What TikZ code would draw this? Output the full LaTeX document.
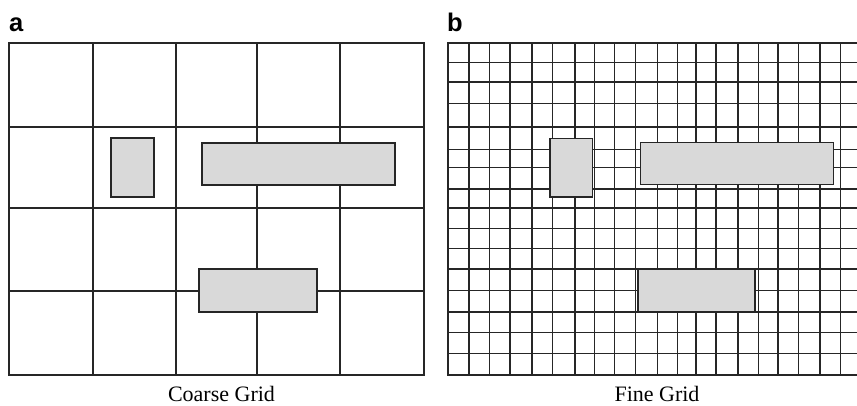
\documentclass[tikz,border=0pt]{standalone}
\usepackage{fontspec}
\setmainfont{Liberation Serif}
\setsansfont{Liberation Sans}
\begin{document}
\begin{tikzpicture}[x=1pt,y=-1pt,
    gridline/.style={line width=1.4pt, draw=black!85, line cap=rect},
    block/.style={line width=1.4pt, draw=black!85, fill=black!15},
    panellabel/.style={anchor=base west, inner sep=0pt, font=\sffamily\bfseries\fontsize{25.5}{30}\selectfont},
    caption/.style={anchor=base, inner sep=0pt, font=\fontsize{22}{26}\selectfont}]

    \useasboundingbox (0,0) rectangle (857,405);
    \clip (0,0) rectangle (857,405);

    % Panel labels
    \node[panellabel] (labelA) at (9,31) {a};
    \node[panellabel] (labelB) at (447,31) {b};

    % Coarse grid
    \foreach \x in {9,93,176,257,340,424} \draw[gridline] (\x,43) -- (\x,375);
    \foreach \y in {43,127,208,291,375} \draw[gridline] (9,\y) -- (424,\y);

    % Fine grid (runs past the right edge)
    \foreach \x in {448,469,489.7,510,532,552.3,575,594.3,614.7,635.3,657.3,677.3,696,716,738,758.3,778,798.3,820,840.7}
        \draw[gridline] (\x,43) -- (\x,375);
    \foreach \y in {43,62.7,82,103.3,127,149.3,167.7,189,208,228.7,248.7,269,290.7,312,332.7,353.3,375}
        \draw[gridline] (448,\y) -- (870,\y);

    % Blocks on the coarse grid
    \draw[block] (111,138) rectangle (154,197);
    \draw[block] (202,143) rectangle (395,185);
    \draw[block] (199,269) rectangle (317,312);

    % Same blocks on the fine grid
    \draw[block] (550,138.5) rectangle (592.3,197);
    \draw[block] (640.3,142.7) rectangle (833.3,184.7);
    \draw[block] (638,269.3) rectangle (755,311.7);

    % Captions
    \node[caption] (captionA) at (221.5,401.8) {Coarse Grid};
    \node[caption] (captionB) at (657,401.8) {Fine Grid};

\end{tikzpicture}
\end{document}
